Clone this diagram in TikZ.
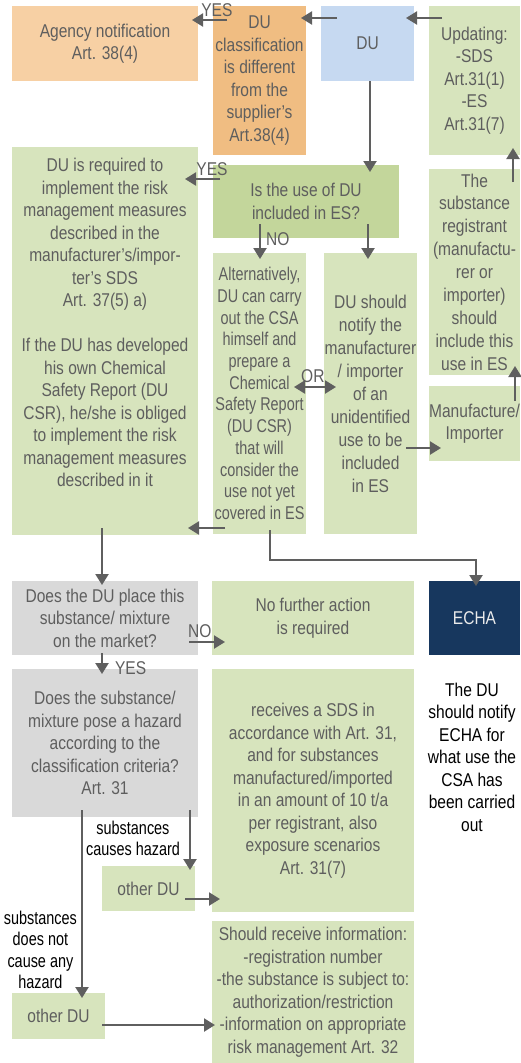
\documentclass[tikz,border=0pt]{standalone}
\usepackage{fontspec}
\setmainfont{Liberation Sans}[FakeStretch=0.84]
\newfontfamily\narrowfont{Liberation Sans}[FakeStretch=0.78]
\usetikzlibrary{arrows.meta,calc}

\definecolor{glight}{HTML}{D7E4BD}
\definecolor{gmid}{HTML}{C3D69B}
\definecolor{peach}{HTML}{F7D0A4}
\definecolor{orangebox}{HTML}{F0BD82}
\definecolor{bluebox}{HTML}{C6D9F1}
\definecolor{graybox}{HTML}{D9D9D9}
\definecolor{navy}{HTML}{17375E}
\definecolor{txtgray}{HTML}{5E5E5E}
\definecolor{arrgray}{HTML}{5F5F5F}

\newcommand{\boxfont}{\fontsize{18.5}{22.5}\selectfont}

\tikzset{
  box/.style={rectangle, inner sep=0pt, outer sep=0pt, anchor=north west,
    align=center, text=txtgray, font=\boxfont},
  sz/.style 2 args={minimum width=#1pt, minimum height=#2pt},
  gbox/.style={box, fill=glight},
  gmbox/.style={box, fill=gmid},
  pbox/.style={box, fill=peach},
  obox/.style={box, fill=orangebox},
  bbox/.style={box, fill=bluebox},
  qbox/.style={box, fill=graybox},
  nbox/.style={box, fill=navy, text=white!92!black},
  arr/.style={draw=arrgray, line width=2.2pt, -{Triangle[length=11pt,width=13pt]}},
  darr/.style={draw=arrgray, line width=2.2pt, {Triangle[length=11pt,width=13pt]}-{Triangle[length=11pt,width=13pt]}},
  lbl/.style={text=txtgray, inner sep=0pt, font=\boxfont},
  blk/.style={text=black, align=center, inner sep=0pt, font=\boxfont},
  blkn/.style={blk, font=\narrowfont\fontsize{18.5}{21.5}\selectfont},
}

\begin{document}
\begin{tikzpicture}[x=1pt, y=-1pt]
\useasboundingbox (0,0) rectangle (520,1063);

% top row
\node[pbox, sz={186}{75}] (agency) at (12,6) {Agency notification\\Art. 38(4)};
\node[obox, sz={93}{149}] (cls) at (213,6) {DU\\classification\\is different\\from the\\supplier’s\\Art.38(4)};
\node[bbox, sz={93}{75}] (du) at (321,6) {DU};
\node[gbox, sz={91}{149}] (upd) at (429,6) {Updating:\\-SDS\\Art.31(1)\\-ES\\Art.31(7)};

% middle block
\node[gbox, sz={186}{388}] (req) at (12,147) {DU is required to\\implement the risk\\management measures\\described in the\\manufacturer’s/impor-\\ter’s SDS\\Art. 37(5) a)\\[22.5pt]If the DU has developed\\his own Chemical\\Safety Report (DU\\CSR), he/she is obliged\\to implement the risk\\management measures\\described in it\\[14pt]};
\node[gmbox, sz={186}{73}] (isuse) at (213,165) {Is the use of DU\\included in ES?};
\node[gbox, sz={93}{281}, font=\narrowfont\fontsize{18.5}{21.7}\selectfont] (alt) at (213,253) {Alternatively,\\DU can carry\\out the CSA\\himself and\\prepare a\\Chemical\\Safety Report\\(DU CSR)\\that will\\consider the\\use not yet\\covered in ES};
\node[gbox, sz={93}{281}, font=\fontsize{18.5}{23}\selectfont] (notify) at (324,253) {DU should\\notify the\\manufacturer\\/ importer\\of an\\unidentified\\use to be\\included\\in ES};
\node[gbox, sz={91}{206}, font=\fontsize{18.5}{22.9}\selectfont] (reg) at (429,169) {The\\substance\\registrant\\(manufactu-\\rer or\\importer)\\should\\include this\\use in ES};
\node[gbox, sz={91}{75}] (manu) at (429,386) {Manufacture/\\Importer};

% lower block
\node[qbox, sz={186}{74}] (place) at (12,581) {Does the DU place this\\substance/ mixture\\on the market?};
\node[gbox, sz={202}{74}] (nofurther) at (212,581) {No further action\\is required};
\node[nbox, sz={91}{74}] (echa) at (429,581) {ECHA};
\node[qbox, sz={186}{148}] (hazard) at (12,669) {Does the substance/\\mixture pose a hazard\\according to the\\classification criteria?\\Art. 31};
\node[gbox, sz={202}{243}] (receives) at (212,669) {receives a SDS in\\accordance with Art. 31,\\and for substances\\manufactured/imported\\in an amount of 10 t/a\\per registrant, also\\exposure scenarios\\Art. 31(7)};
\node[gbox, sz={93}{45}] (other1) at (102,866) {other DU};
\node[gbox, sz={93}{46}] (other2) at (12,993) {other DU};
\node[gbox, sz={202}{142}] (should) at (212,921) {Should receive information:\\-registration number\\-the substance is subject to:\\authorization/restriction\\-information on appropriate\\risk management Art. 32};
\node[blk] (echanote) at (472,757) {The DU\\should notify\\ECHA for\\what use the\\CSA has\\been carried\\out};

% connectors
\draw[arr] ($(cls.north west)+(14,14)$) -- node[lbl, above=2pt, pos=0.29] {YES} ($(agency.north east)+(-6,14)$);
\draw[arr] ($(du.north west)+(16,12)$) -- ($(cls.north east)+(-5,12)$);
\draw[arr] ($(upd.north west)+(13,12)$) -- ($(du.north east)+(-8,12)$);
\draw[arr] ($(du.south west)+(49,0)$) -- ($(isuse.north west)+(157,7)$);
\draw[arr] ($(reg.north west)+(84,13)$) -- ($(upd.south west)+(84,-7)$);
\draw[arr] ($(isuse.north west)+(7,14)$) -- node[lbl, above=2pt, pos=0.23] {YES} ($(req.north east)+(-13,32)$);
\draw[arr] ($(isuse.south west)+(47,-14)$) -- node[lbl, right=5pt, pos=0.43] {NO} ($(alt.north west)+(47,6)$);
\draw[arr] ($(isuse.south west)+(155,-14)$) -- ($(notify.north west)+(44,6)$);
\draw[darr] ($(alt.north east)+(-12,134)$) -- node[lbl, above=3pt, pos=0.45] {OR} ($(notify.north west)+(12,134)$);
\draw[arr] ($(notify.north west)+(82,195)$) -- ($(manu.north west)+(12,62)$);
\draw[arr] ($(manu.north west)+(86,15)$) -- ($(reg.south west)+(86,-9)$);
\draw[arr] ($(alt.south west)+(12,-6)$) -- ($(req.south east)+(-10,-7)$);
\draw[arr] ($(alt.south west)+(57,-4)$) -- ++(0,30) -| ($(echa.north west)+(47,5)$);
\draw[arr] ($(req.south west)+(90,-7)$) -- ($(place.north west)+(90,4)$);
\draw[arr] ($(place.north west)+(177,61)$) -- node[lbl, above=3pt, pos=0.3] {NO} ($(nofurther.north west)+(13,61)$);
\draw[arr] ($(place.south west)+(90,-2)$) -- node[lbl, right=12pt, pos=0.7] {YES} ($(hazard.north west)+(90,5)$);
\draw[arr] ($(hazard.south west)+(178,-7)$) -- node[blkn, left=9pt, pos=0.47] {substances\\causes hazard} ($(other1.north west)+(88,4)$);
\draw[arr] ($(hazard.south west)+(70,-7)$) -- node[blkn, left=4pt, pos=0.745] {substances\\does not\\cause any\\hazard} ($(other2.north west)+(70,5)$);
\draw[arr] ($(other1.north west)+(83,33)$) -- ($(receives.south west)+(8,-13)$);
\draw[arr] ($(other2.north west)+(90,32)$) -- ($(should.north west)+(3,104)$);
\end{tikzpicture}
\end{document}
